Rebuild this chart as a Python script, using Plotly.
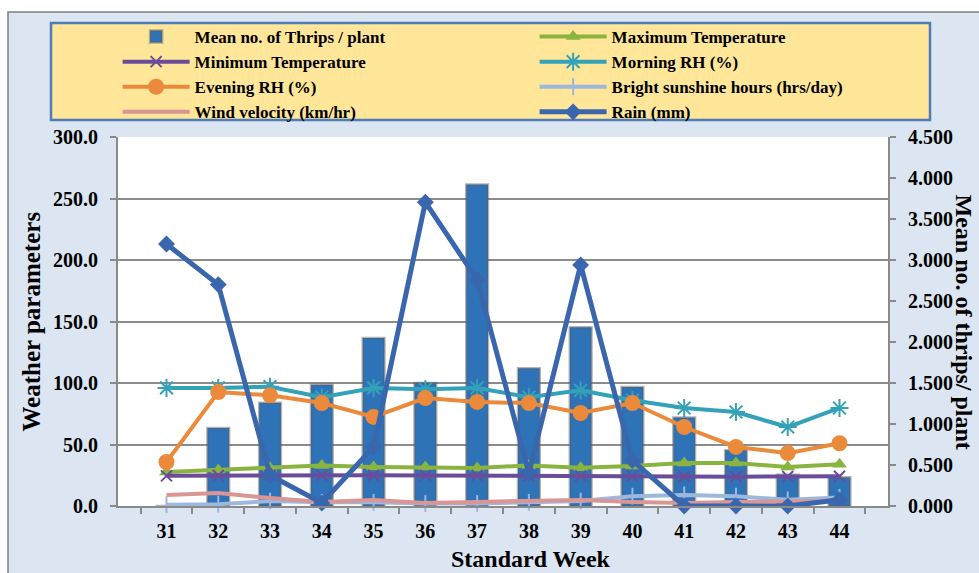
import plotly.graph_objects as go

weeks = ["31", "32", "33", "34", "35", "36", "37", "38", "39", "40", "41", "42", "43", "44"]
thrips = [0.0, 0.95, 1.26, 1.48, 2.05, 1.50, 3.92, 1.68, 2.18, 1.45, 1.08, 0.68, 0.38, 0.35]
max_temp = [27.6, 29.3, 30.9, 33.0, 31.7, 31.7, 30.9, 33.0, 31.0, 32.5, 35.0, 35.0, 31.7, 34.0]
min_temp = [24.5, 24.8, 25.0, 25.0, 25.0, 24.8, 24.8, 24.6, 24.5, 24.3, 24.0, 23.8, 24.0, 24.2]
morning_rh = [96.0, 96.0, 97.0, 88.5, 96.0, 95.0, 96.0, 88.5, 94.0, 86.0, 79.7, 76.4, 64.2, 79.7]
evening_rh = [35.8, 92.7, 90.0, 83.7, 72.4, 87.8, 84.6, 83.7, 75.6, 83.7, 64.2, 48.0, 43.0, 51.0]
sunshine = [1.0, 1.5, 4.0, 3.0, 3.0, 2.0, 2.0, 3.0, 4.0, 8.0, 9.0, 8.0, 5.0, 7.0]
wind = [9.0, 10.6, 6.5, 3.3, 4.9, 2.4, 3.3, 4.0, 4.9, 3.3, 2.4, 3.3, 3.3, 4.0]
rain = [213.0, 180.0, 25.0, 2.5, 48.0, 247.0, 184.0, 27.0, 196.0, 37.0, 0.0, 0.0, 0.0, 5.0]

FONT = "Liberation Serif"

# plot area geometry (pixels) used for placing decorations
L, R, T, B = 118, 888, 137, 506
W, H = R - L, B - T


def px(x):
    return (x - L) / W


def py(y):
    return (B - y) / H


fig = go.Figure()

fig.add_trace(go.Bar(
    x=weeks, y=thrips, name="Mean no. of Thrips / plant", yaxis="y",
    marker=dict(color="#2E73B8", line=dict(color="rgba(90,90,90,0.45)", width=2.5)),
    width=0.42,
))

line_specs = [
    ("Maximum Temperature", max_temp, "#8AB440", dict(symbol="triangle-up", size=13)),
    ("Minimum Temperature", min_temp, "#6B4C9A", dict(symbol="x-thin", size=11, line=dict(width=2, color="#6B4C9A"))),
    ("Morning RH (%)", morning_rh, "#33A2B8", dict(symbol="asterisk", size=15, line=dict(width=2, color="#33A2B8"))),
    ("Evening RH (%)", evening_rh, "#EA8A3A", dict(symbol="circle", size=16)),
    ("Bright sunshine hours (hrs/day)", sunshine, "#9DB7DD", dict(symbol="line-ns", size=12, line=dict(width=2, color="#9DB7DD"))),
    ("Wind velocity (km/hr)", wind, "#D99694", dict(symbol="line-ns", size=0, line=dict(width=0, color="#D99694"))),
    ("Rain (mm)", rain, "#3A66AD", dict(symbol="diamond", size=13)),
]

for name, vals, color, mk in line_specs:
    mk = dict(mk)
    mk.setdefault("color", color)
    fig.add_trace(go.Scatter(
        x=weeks, y=vals, name=name, yaxis="y2", mode="lines+markers",
        line=dict(color=color, width=5 if name == "Rain (mm)" else 4),
        marker=mk, cliponaxis=False,
    ))

tickfont = dict(family=FONT, size=20, color="black", weight="bold")
axis_gray = "#8A8A8A"

fig.update_layout(
    width=979, height=573,
    margin=dict(l=L, r=979 - R, t=T, b=573 - B, autoexpand=False),
    paper_bgcolor="#DCE6F2",
    plot_bgcolor="white",
    showlegend=True,
    xaxis=dict(
        type="category", tickson="boundaries", ticks="outside", ticklen=6,
        tickcolor=axis_gray, tickwidth=1.5, showline=True, linecolor=axis_gray,
        linewidth=2, showgrid=False, tickfont=tickfont, ticklabelstandoff=6,
    ),
    yaxis=dict(
        side="right", range=[0, 4.5], tickvals=[i * 0.5 for i in range(10)],
        tickformat=".3f", showgrid=False, zeroline=False, showline=True,
        linecolor=axis_gray, linewidth=2, ticks="outside", ticklen=6,
        tickcolor=axis_gray, tickwidth=1.5, tickfont=tickfont, ticklabelstandoff=8,
    ),
    yaxis2=dict(
        overlaying="y", side="left", range=[0, 300], dtick=50, tickformat=".1f",
        showgrid=True, gridcolor="#8C8C8C", gridwidth=1.5, zeroline=False,
        showline=True, linecolor=axis_gray, linewidth=2, ticks="outside",
        ticklen=6, tickcolor=axis_gray, tickwidth=1.5, tickfont=tickfont,
        ticklabelstandoff=8,
    ),
    legend=dict(
        orientation="h", x=-0.0005, y=py(19), xanchor="left", yanchor="top",
        entrywidth=335, entrywidthmode="pixels", itemwidth=67,
        bgcolor="rgba(0,0,0,0)", borderwidth=0,
        font=dict(family=FONT, size=17, color="black", weight="bold"),
        traceorder="normal",
    ),
    annotations=[
        dict(text="<b>Weather parameters</b>", x=px(31), y=0.5, xref="paper", yref="paper",
             textangle=-90, showarrow=False, font=dict(family=FONT, size=25, color="black"),
             xanchor="center", yanchor="middle"),
        dict(text="<b>Mean no. of thrips/ plant</b>", x=px(964), y=0.5, xref="paper", yref="paper",
             textangle=90, showarrow=False, font=dict(family=FONT, size=24, color="black"),
             xanchor="center", yanchor="middle"),
        dict(text="<b>Standard Week</b>", x=px(531), y=py(544), xref="paper", yref="paper",
             showarrow=False, font=dict(family=FONT, size=24, color="black"),
             xanchor="center", yanchor="top"),
    ],
    shapes=[
        # white outside the chart frame
        dict(type="rect", xref="paper", yref="paper", x0=px(-20), x1=px(8), y0=py(600), y1=py(-20),
             fillcolor="white", line=dict(width=0), layer="above"),
        dict(type="rect", xref="paper", yref="paper", x0=px(-20), x1=px(1000), y0=py(12), y1=py(-20),
             fillcolor="white", line=dict(width=0), layer="above"),
        # chart frame
        dict(type="rect", xref="paper", yref="paper", x0=px(8), x1=px(1000), y0=py(600), y1=py(12),
             fillcolor="rgba(0,0,0,0)", line=dict(width=1.5, color="#7F7F7F"), layer="above"),
        # legend box
        dict(type="rect", xref="paper", yref="paper", x0=px(51), x1=px(930), y0=py(120), y1=py(23),
             fillcolor="#FFE699", line=dict(width=2.5, color="#4F7BB8"), layer="above"),
    ],
)

fig.write_html("out.html")
